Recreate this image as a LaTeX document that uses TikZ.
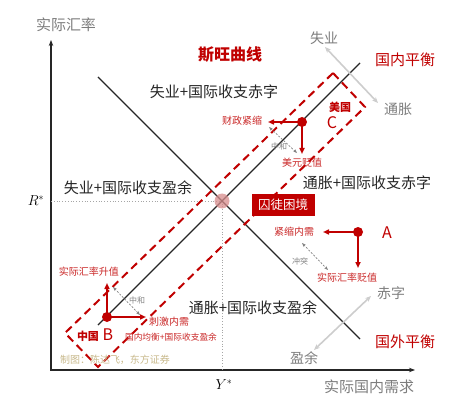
\documentclass[tikz,border=0pt]{standalone}
\usepackage{fontspec}
\newfontfamily\cjk{Noto Sans CJK SC}
\usetikzlibrary{arrows.meta}
\definecolor{myred}{RGB}{192,0,0}
\definecolor{txtgray}{RGB}{125,125,125}
\definecolor{lgray}{RGB}{205,205,205}
\definecolor{dgray}{RGB}{130,130,130}
\definecolor{tanc}{RGB}{200,185,140}
\definecolor{pinkc}{RGB}{215,140,140}
\begin{document}
\begin{tikzpicture}[x=1pt,y=-1pt,
  every node/.style={inner sep=0pt,outer sep=0pt},
  quad/.style={font=\cjk\fontsize{15}{17}\selectfont,text=black!85},
  redbig/.style={font=\cjk\fontsize{15}{17}\selectfont,text=myred},
  graylbl/.style={font=\cjk\fontsize{15}{17}\selectfont,text=txtgray},
  graysm/.style={font=\cjk\fontsize{14}{16}\selectfont,text=txtgray},
  redsmall/.style={font=\cjk\fontsize{10}{12}\selectfont,text=myred!85},
  tinylbl/.style={font=\cjk\fontsize{8}{10}\selectfont,text=dgray},
  letter/.style={font=\cjk\fontsize{16}{18}\selectfont,text=myred},
  redarrow/.style={myred,line width=1.5pt,-{Triangle[length=6pt,width=5pt]}},
  grayarrow/.style={lgray,line width=1.6pt,{Stealth[length=6pt,width=5pt]}-{Stealth[length=6pt,width=5pt]}},
  smallarrow/.style={dgray,line width=0.7pt,dashed,dash pattern=on 2pt off 1.5pt,{Stealth[length=4pt,width=3pt]}-{Stealth[length=4pt,width=3pt]}},
  curve/.style={black!85,line width=1.3pt},
  dot/.style={myred,fill=myred}
]
\useasboundingbox (0,0) rectangle (456,404);

% axes
\coordinate (O) at (51,370);
\coordinate (ytop) at (51,40);
\coordinate (xend) at (415,370);
\draw[black!85,line width=1.3pt,{Stealth[length=6pt,width=4.5pt]}-{Stealth[length=6pt,width=4.5pt]}] (ytop) -- (O) -- (xend);
\node[graylbl] (ylab) at (66,25) {实际汇率};
\node[graylbl] (xlab) at (369,387) {实际国内需求};

% equilibrium
\coordinate (E) at (222,201);
\coordinate (Rax) at (51,201);
\coordinate (Yax) at (222,370);
\draw[gray!70,line width=0.8pt,dotted] (Rax) -- (E) -- (Yax);
\node (Rs) at (36,201) {\fontsize{14}{16}\selectfont$R^*$};
\node (Ys) at (224,385) {\fontsize{14}{16}\selectfont$Y^*$};

% curves
\coordinate (ib1) at (98,77);
\coordinate (ib2) at (360,339);
\coordinate (ie1) at (98,325);
\coordinate (ie2) at (360,63);
\draw[curve] (ib1) -- (ib2);
\draw[curve] (ie1) -- (ie2);
\fill[pinkc,opacity=0.75] (E) circle (7.5);

% dashed rectangle
\coordinate (r1) at (333,73);
\coordinate (r2) at (365,107);
\coordinate (r3) at (98,367);
\coordinate (r4) at (65,333);
\draw[myred,line width=2pt,dash pattern=on 8pt off 5pt] (r1) -- (r2) -- (r3) -- (r4) -- cycle;

% titles
\node[font=\cjk\bfseries\fontsize{16}{18}\selectfont,text=myred] (title) at (230,55) {斯旺曲线};
\node[redbig] (ibl) at (405,60) {国内平衡};
\node[redbig] (ebl) at (405,342) {国外平衡};

% region labels
\node[quad] (q1) at (214,92) {失业+国际收支赤字};
\node[quad] (q2) at (128,188) {失业+国际收支盈余};
\node[quad] (q3) at (367,183) {通胀+国际收支赤字};
\node[quad] (q4) at (253,308) {通胀+国际收支盈余};

% gray direction arrows
\node[graysm] (unemp) at (324,38) {失业};
\node[graysm] (infl) at (398,109) {通胀};
\draw[grayarrow] (325,47) coordinate (u1) -- (378,103) coordinate (u2);
\node[graysm] (defi) at (391,293) {赤字};
\node[graysm] (surp) at (304,358) {盈余};
\draw[grayarrow] (371,296) coordinate (d1) -- (314,350) coordinate (d2);

% prisoner's dilemma box
\node[fill=myred,text=white,font=\cjk\fontsize{12.5}{14}\selectfont,minimum width=63pt,minimum height=21pt] (pd) at (283,205) {囚徒困境};

% point C (USA)
\coordinate (C) at (302,122);
\coordinate (Cl) at (268,122);
\coordinate (Cd) at (302,154);
\draw[redarrow] (C) -- (Cl);
\draw[redarrow] (C) -- (Cd);
\fill[dot] (C) circle (5);
\node[font=\cjk\bfseries\fontsize{11}{13}\selectfont,text=myred] (us) at (340,107) {美国};
\node[letter] (Cn) at (332,123) {C};
\node[redsmall] (fis) at (242,121) {财政紧缩};
\node[redsmall] (usd) at (302,163) {美元贬值};
\coordinate (cn1) at (269,127);
\coordinate (cn2) at (297,153);
\draw[smallarrow] (cn1) -- (cn2);
\node[tinylbl] (zh1) at (279,146) {中和};

% point A
\coordinate (A) at (358,232);
\coordinate (Al) at (323,232);
\coordinate (Ad) at (358,268);
\draw[redarrow] (A) -- (Al);
\draw[redarrow] (A) -- (Ad);
\fill[dot] (A) circle (5);
\node[letter] (An) at (387,233) {A};
\node[redsmall] (ctd) at (294,232) {紧缩内需};
\node[redsmall] (dep) at (347,278) {实际汇率贬值};
\coordinate (ca1) at (302,243);
\coordinate (ca2) at (328,270);
\draw[smallarrow] (ca1) -- (ca2);
\node[tinylbl] (cf) at (300,261) {冲突};

% point B (China)
\coordinate (B) at (107,317);
\coordinate (Bu) at (107,283);
\coordinate (Br) at (146,317);
\draw[redarrow] (B) -- (Bu);
\draw[redarrow] (B) -- (Br);
\fill[dot] (B) circle (5);
\node[redsmall] (app) at (89,272) {实际汇率升值};
\node[redsmall] (stim) at (169,322) {刺激内需};
\node[font=\cjk\bfseries\fontsize{11}{13}\selectfont,text=myred] (cn) at (88,336) {中国};
\node[letter] (Bn) at (108,335) {B};
\node[font=\cjk\fontsize{8.7}{10}\selectfont,text=myred!85] (bal) at (171,337) {国内均衡+国际收支盈余};
\coordinate (cb1) at (113,287);
\coordinate (cb2) at (140,315);
\draw[smallarrow] (cb1) -- (cb2);
\node[tinylbl] (zh2) at (137,300) {中和};

% credit
\node[font=\cjk\fontsize{10}{12}\selectfont,text=tanc] (credit) at (115,360) {制图：陈达飞，东方证券};
\end{tikzpicture}
\end{document}
